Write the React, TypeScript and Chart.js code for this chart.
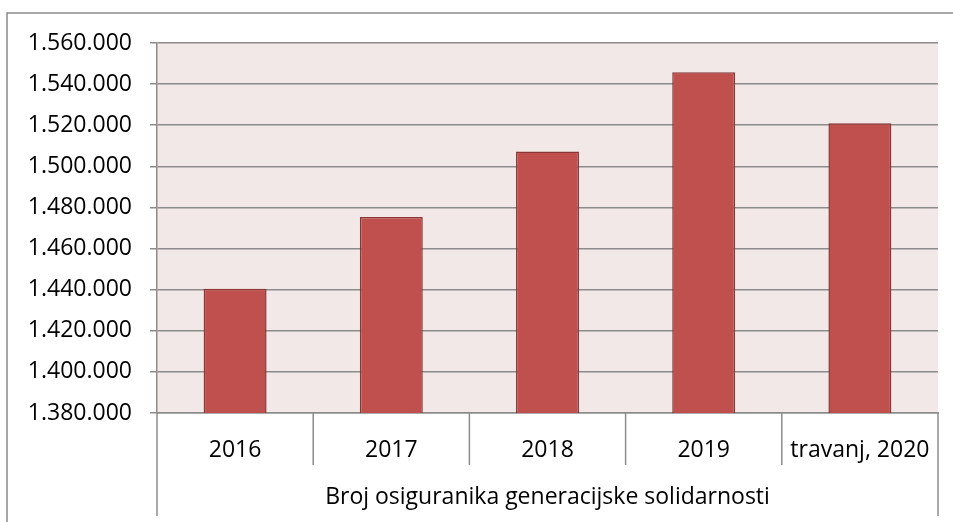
import React, { useEffect, useRef } from "react";
import { Chart, registerables } from "chart.js";

Chart.register(...registerables);

const categories = ["2016", "2017", "2018", "2019", "travanj, 2020"];
const groupLabel = "Broj osiguranika generacijske solidarnosti";
const values = [1440500, 1475300, 1507200, 1545800, 1521000];
const yMin = 1380000;
const yMax = 1560000;
const yStep = 20000;

const FONT = "'Open Sans', 'Noto Sans', sans-serif";
const GRID = "#8c8c8c";
const FS = 23;

function fmt(v: number): string {
  return Math.round(v)
    .toString()
    .replace(/\B(?=(\d{3})+(?!\d))/g, ".");
}

const decorPlugin = {
  id: "decor",
  beforeDraw(chart: any) {
    const { ctx, chartArea } = chart;
    ctx.save();
    ctx.fillStyle = "#ffffff";
    ctx.fillRect(0, 0, chart.width, chart.height);
    ctx.fillStyle = "#f2e8e7";
    ctx.fillRect(chartArea.left, chartArea.top, chartArea.right - chartArea.left, chartArea.bottom - chartArea.top);
    // outer border
    ctx.strokeStyle = "#8a8a8a";
    ctx.lineWidth = 1.5;
    ctx.beginPath();
    ctx.moveTo(7, chart.height + 5);
    ctx.lineTo(7, 13);
    ctx.lineTo(chart.width + 5, 13);
    ctx.stroke();
    ctx.restore();
  },
  afterDraw(chart: any) {
    const { ctx, chartArea } = chart;
    const n = categories.length;
    const step = (chartArea.right - chartArea.left) / n;
    ctx.save();
    ctx.strokeStyle = GRID;
    ctx.lineWidth = 1.5;
    for (let i = 0; i <= n; i++) {
      const px = chartArea.left + step * i;
      const end = i === 0 || i === n ? chartArea.bottom + 103 : chartArea.bottom + 52;
      ctx.beginPath();
      ctx.moveTo(px, chartArea.bottom);
      ctx.lineTo(px, end);
      ctx.stroke();
    }
    ctx.fillStyle = "#000000";
    ctx.font = `${FS}px ${FONT}`;
    ctx.textAlign = "center";
    ctx.textBaseline = "middle";
    ctx.fillText(groupLabel, (chartArea.left + chartArea.right) / 2, chartArea.bottom + 84);
    ctx.restore();
  },
};

export default function App() {
  const ref = useRef<HTMLCanvasElement | null>(null);
  useEffect(() => {
    document.body.style.margin = "0";
    const canvas = ref.current;
    if (!canvas) return;
    const chart = new Chart(canvas, {
      type: "bar",
      data: {
        labels: categories,
        datasets: [
          {
            data: values,
            backgroundColor: "#c0504d",
            borderColor: "#8a3634",
            borderWidth: 1.5,
            borderSkipped: false,
            barPercentage: 0.403,
            categoryPercentage: 1,
          },
        ],
      },
      options: {
        responsive: false,
        animation: false,
        devicePixelRatio: 1,
        layout: { padding: { top: 43, right: 15, left: 0, bottom: 0 } },
        plugins: { legend: { display: false }, tooltip: { enabled: false } },
        scales: {
          x: {
            grid: { display: false },
            border: { display: true, color: GRID, width: 1.5 },
            ticks: {
              color: "#000",
              font: { family: FONT, size: FS },
              padding: 16,
              maxRotation: 0,
              autoSkip: false,
            },
            afterFit: (s: any) => {
              s.height = 109;
            },
          },
          y: {
            min: yMin,
            max: yMax,
            grid: { color: GRID, lineWidth: 1.5, tickLength: 7 },
            border: { display: true, color: GRID, width: 1.5 },
            ticks: {
              stepSize: yStep,
              color: "#000",
              font: { family: FONT, size: FS },
              padding: 18,
              callback: (v: any) => fmt(Number(v)),
            },
            afterFit: (s: any) => {
              s.width = 157;
            },
          },
        },
      },
      plugins: [decorPlugin],
    });
    return () => chart.destroy();
  }, []);
  return (
    <div style={{ position: "absolute", left: 0, top: 0, width: 953, height: 522 }}>
      <canvas ref={ref} width={953} height={522} style={{ display: "block", width: 953, height: 522 }} />
    </div>
  );
}
